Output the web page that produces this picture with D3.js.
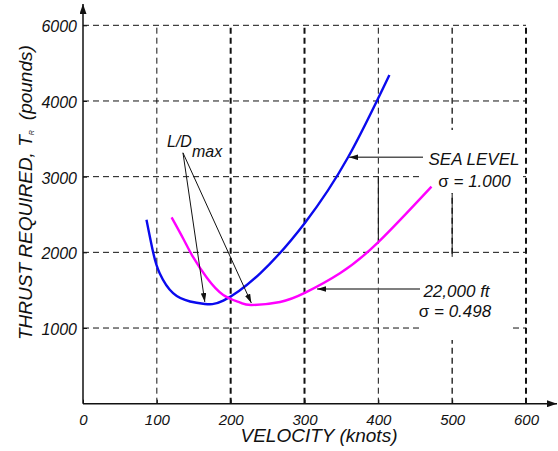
<!DOCTYPE html>
<html>
<head>
<meta charset="utf-8">
<script src="https://cdn.jsdelivr.net/npm/d3@7/dist/d3.min.js"></script>
<style>
  html, body { margin: 0; padding: 0; background: #fff; }
  svg { display: block; font-family: "Liberation Sans", Arial, sans-serif; font-style: italic; }
</style>
</head>
<body>
<svg id="chart" width="558" height="451"></svg>
<script>
// ── Data ──────────────────────────────────────────────────────────────────────

const xTicks      = [0, 100, 200, 300, 400, 500, 600];
const yTicks      = [1000, 2000, 3000, 4000, 5000];
const yTickLabels = ['1000', '2000', '3000', '4000', '6000'];   // as printed on the original

// sea level, sigma = 1.000
const seaVelocity = [86, 95, 104, 122, 145, 165, 190, 240, 301, 359, 415];
const seaThrust   = [2430, 2000, 1720, 1460, 1350, 1318, 1362, 1723, 2395, 3256, 4344];

// 22,000 ft, sigma = 0.498
const altVelocity = [120, 136, 149, 168, 190, 213, 228, 267, 301, 348, 400, 472];
const altThrust   = [2463, 2177, 1939, 1661, 1437, 1335, 1304, 1344, 1467, 1723, 2135, 2868];

// ── Setup ─────────────────────────────────────────────────────────────────────

const svg = d3.select('#chart');
const x = d3.scaleLinear().domain([0, 600]).range([83, 526]);
const y = d3.scaleLinear().domain([0, 5000]).range([403.7, 25.3]);

const gridWidth = { 100: 1, 200: 2, 300: 2, 400: 1, 500: 1.3, 600: 2 };
const ink = '#111';

const defs = svg.append('defs');
function marker(id, len, half, color) {
  defs.append('marker').attr('id', id)
    .attr('markerUnits', 'userSpaceOnUse')
    .attr('markerWidth', len).attr('markerHeight', half * 2)
    .attr('refX', len).attr('refY', half).attr('orient', 'auto')
    .append('path').attr('d', `M0,0L${len},${half}L0,${half * 2}Z`).attr('fill', color);
}
marker('axis-head', 10, 3.5, ink);
marker('note-head', 9, 2.8, ink);

// ── Grid ──────────────────────────────────────────────────────────────────────

svg.append('g').selectAll('line')
  .data(xTicks.slice(1))
  .join('line')
  .attr('x1', d => x(d)).attr('x2', d => x(d))
  .attr('y1', y(0)).attr('y2', y(5000))
  .attr('stroke', ink).attr('stroke-width', d => gridWidth[d])
  .attr('stroke-dasharray', '6,4');

svg.append('g').selectAll('line')
  .data(yTicks)
  .join('line')
  .attr('x1', x(0)).attr('x2', x(600))
  .attr('y1', d => y(d)).attr('y2', d => y(d))
  .attr('stroke', ink).attr('stroke-width', 1)
  .attr('stroke-dasharray', '6,4');

// white label boxes that break the grid
svg.append('rect').attr('x', 423).attr('y', 130).attr('width', 99).attr('height', 63).attr('fill', '#fff');
svg.append('rect').attr('x', 420).attr('y', 257).attr('width', 91).attr('height', 83).attr('fill', '#fff');

// solid pieces of grid under the labels
svg.append('line').attr('x1', x(400)).attr('x2', x(400)).attr('y1', y(3000)).attr('y2', y(2140))
  .attr('stroke', ink).attr('stroke-width', 1);
svg.append('line').attr('x1', x(500)).attr('x2', x(500)).attr('y1', y(2780)).attr('y2', y(1940))
  .attr('stroke', ink).attr('stroke-width', 1);

// ── Axes ──────────────────────────────────────────────────────────────────────

const xAxis = svg.append('g')
  .attr('transform', `translate(0,${y(0)})`)
  .call(d3.axisBottom(x).tickValues(xTicks).tickSize(-4).tickFormat(d3.format('d')));
xAxis.select('.domain').remove();
xAxis.selectAll('line').attr('stroke', ink);
xAxis.selectAll('text')
  .attr('y', 21).attr('dy', 0)
  .attr('fill', ink).style('font-size', '15px').style('font-family', null);

const yAxis = svg.append('g')
  .attr('transform', `translate(${x(0)},0)`)
  .call(d3.axisLeft(y).tickValues(yTicks).tickSize(-4).tickFormat((d, i) => yTickLabels[i]));
yAxis.select('.domain').remove();
yAxis.selectAll('line').attr('stroke', ink);
yAxis.selectAll('text')
  .attr('x', -6).attr('dy', '0.4em')
  .attr('fill', ink).style('font-size', '16px').style('font-family', null);

svg.append('line')
  .attr('x1', x(0)).attr('y1', y(0)).attr('x2', x(0)).attr('y2', 4)
  .attr('stroke', ink).attr('stroke-width', 1.5).attr('marker-end', 'url(#axis-head)');
svg.append('line')
  .attr('x1', x(0)).attr('y1', y(0)).attr('x2', 557).attr('y2', y(0))
  .attr('stroke', ink).attr('stroke-width', 1.5).attr('marker-end', 'url(#axis-head)');

// axis titles
svg.append('text')
  .attr('x', 319).attr('y', 442)
  .attr('text-anchor', 'middle').attr('fill', ink)
  .style('font-size', '19px')
  .text('VELOCITY (knots)');

const yTitle = svg.append('text')
  .attr('transform', 'translate(32,340) rotate(-90)')
  .attr('fill', ink).style('font-size', '19px');
yTitle.append('tspan').text('THRUST REQUIRED, T');
yTitle.append('tspan').attr('dy', 2).style('font-size', '7px').text('R');
yTitle.append('tspan').attr('dy', -2).attr('dx', 10).text('(pounds)');

// ── Curves ────────────────────────────────────────────────────────────────────

const line = d3.line()
  .x(d => x(d[0])).y(d => y(d[1]))
  .curve(d3.curveNatural);

const seaLevel = d3.zip(seaVelocity, seaThrust);
const altitude = d3.zip(altVelocity, altThrust);

svg.append('path').datum(seaLevel)
  .attr('d', line).attr('fill', 'none')
  .attr('stroke', '#0a0aee').attr('stroke-width', 2.4);
svg.append('path').datum(altitude)
  .attr('d', line).attr('fill', 'none')
  .attr('stroke', '#ff00ff').attr('stroke-width', 2.4);

// ── Annotations ───────────────────────────────────────────────────────────────

const seaMin = d3.least(seaLevel, d => d[1]);
const altMin = d3.least(altitude, d => d[1]);
const ldFrom = [135.4, 3315];

[seaMin, altMin].forEach(p => {
  svg.append('line')
    .attr('x1', x(ldFrom[0])).attr('y1', y(ldFrom[1]))
    .attr('x2', x(p[0])).attr('y2', y(p[1]) - 2)
    .attr('stroke', ink).attr('stroke-width', 1)
    .attr('marker-end', 'url(#note-head)');
});

const ld = svg.append('text')
  .attr('x', 167).attr('y', 146.7).attr('fill', ink).style('font-size', '16px');
ld.append('tspan').text('L/D');
ld.append('tspan').attr('dy', 10).text('max');

// sea level arrow + label
svg.append('line')
  .attr('x1', 423).attr('y1', y(3256)).attr('x2', x(359) + 1).attr('y2', y(3256))
  .attr('stroke', '#555').attr('stroke-width', 1.5)
  .attr('marker-end', 'url(#note-head)');
svg.append('text').attr('x', 474).attr('y', 165).attr('text-anchor', 'middle')
  .attr('fill', ink).style('font-size', '17px').text('SEA LEVEL');
const s1 = svg.append('text').attr('x', 474.5).attr('y', 187).attr('text-anchor', 'middle')
  .attr('fill', ink).style('font-size', '17px');
s1.append('tspan').style('font-style', 'normal').text('σ');
s1.append('tspan').text(' = 1.000');

// 22,000 ft arrow + label
svg.append('line')
  .attr('x1', 420).attr('y1', 289).attr('x2', x(317)).attr('y2', 289)
  .attr('stroke', '#555').attr('stroke-width', 1.5)
  .attr('marker-end', 'url(#note-head)');
svg.append('text').attr('x', 456.5).attr('y', 296.7).attr('text-anchor', 'middle')
  .attr('fill', ink).style('font-size', '17px').text('22,000 ft');
const s2 = svg.append('text').attr('x', 455).attr('y', 317).attr('text-anchor', 'middle')
  .attr('fill', ink).style('font-size', '17px');
s2.append('tspan').style('font-style', 'normal').text('σ');
s2.append('tspan').text(' = 0.498');
</script>
</body>
</html>
